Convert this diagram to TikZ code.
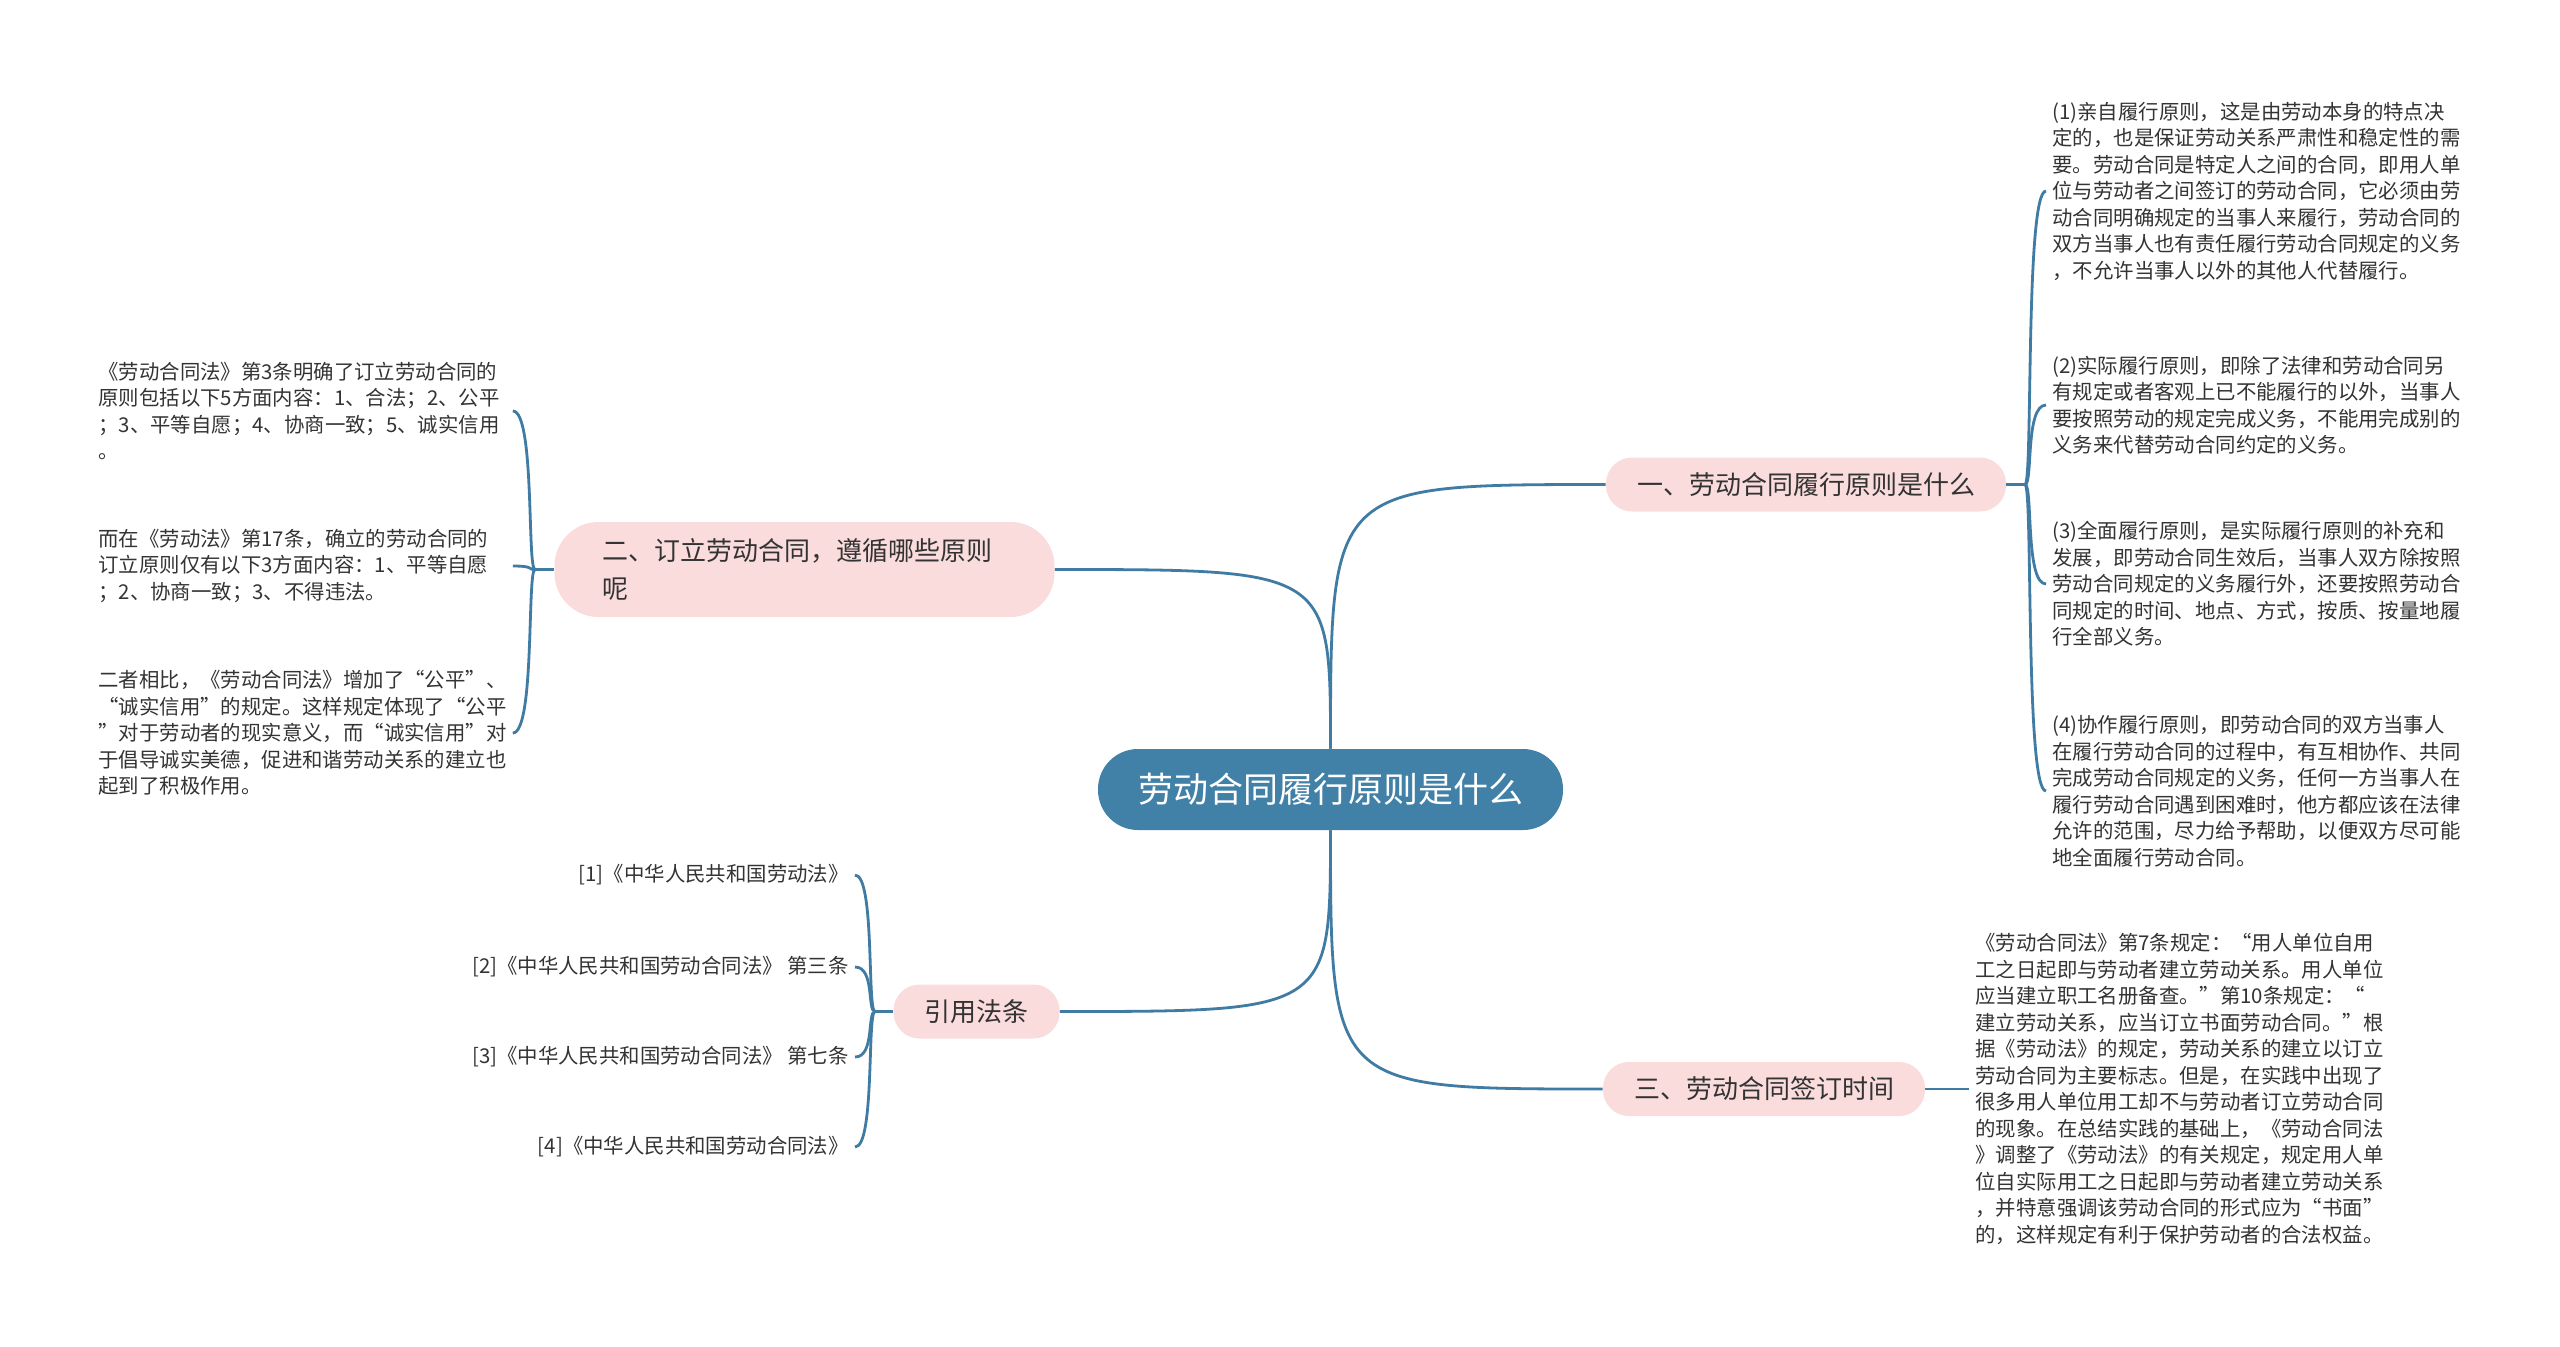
\documentclass[tikz,border=0pt]{standalone}
\usepackage{fontspec}
\setmainfont{Noto Sans CJK SC}
\definecolor{linkblue}{HTML}{3F7BA3}
\definecolor{rootblue}{HTML}{4180A7}
\definecolor{topicpink}{HTML}{FADCDC}
\definecolor{textgray}{HTML}{333333}
\begin{document}
\begin{tikzpicture}[x=0.5pt,y=-0.5pt,
  root/.style={fill=rootblue, text=white, rounded corners=20pt, inner sep=0pt, minimum width=232.5pt, minimum height=40.5pt, font=\fontsize{17.5pt}{21pt}\selectfont},
  topic/.style={fill=topicpink, text=textgray, rounded corners=13pt, inner xsep=15.5pt, inner ysep=0pt, minimum height=27pt, font=\fontsize{13pt}{19pt}\selectfont},
  leaf/.style={text=textgray, align=left, inner sep=3pt, font=\fontsize{10.2pt}{13.25pt}\selectfont},
  link/.style={draw=linkblue, line width=1.4pt}]
\useasboundingbox (0,0) rectangle (2560,1346);

\node[root] (root) at (1330.5,789.5) {劳动合同履行原则是什么};
\node[topic] (t1) at (1806,484.5) {一、劳动合同履行原则是什么};
\node[topic, rounded corners=22pt, text width=202pt, align=left, inner xsep=24pt, minimum height=47.5pt] (t2) at (804.5,569.5) {二、订立劳动合同，遵循哪些原则\\呢};
\node[topic] (t3) at (1764,1089) {三、劳动合同签订时间};
\node[topic] (t4) at (976.5,1011.5) {引用法条};

\node[leaf, anchor=west] (r1) at (2046,191) {(1)亲自履行原则，这是由劳动本身的特点决\\定的，也是保证劳动关系严肃性和稳定性的需\\要。劳动合同是特定人之间的合同，即用人单\\位与劳动者之间签订的劳动合同，它必须由劳\\动合同明确规定的当事人来履行，劳动合同的\\双方当事人也有责任履行劳动合同规定的义务\\，不允许当事人以外的其他人代替履行。};
\node[leaf, anchor=west] (r2) at (2046,405) {(2)实际履行原则，即除了法律和劳动合同另\\有规定或者客观上已不能履行的以外，当事人\\要按照劳动的规定完成义务，不能用完成别的\\义务来代替劳动合同约定的义务。};
\node[leaf, anchor=west] (r3) at (2046,584) {(3)全面履行原则，是实际履行原则的补充和\\发展，即劳动合同生效后，当事人双方除按照\\劳动合同规定的义务履行外，还要按照劳动合\\同规定的时间、地点、方式，按质、按量地履\\行全部义务。};
\node[leaf, anchor=west] (r4) at (2046,791) {(4)协作履行原则，即劳动合同的双方当事人\\在履行劳动合同的过程中，有互相协作、共同\\完成劳动合同规定的义务，任何一方当事人在\\履行劳动合同遇到困难时，他方都应该在法律\\允许的范围，尽力给予帮助，以便双方尽可能\\地全面履行劳动合同。};
\node[leaf, anchor=west] (r5) at (1969,1089) {《劳动合同法》第7条规定：“用人单位自用\\工之日起即与劳动者建立劳动关系。用人单位\\应当建立职工名册备查。”第10条规定：“\\建立劳动关系，应当订立书面劳动合同。”根\\据《劳动法》的规定，劳动关系的建立以订立\\劳动合同为主要标志。但是，在实践中出现了\\很多用人单位用工却不与劳动者订立劳动合同\\的现象。在总结实践的基础上，《劳动合同法\\》调整了《劳动法》的有关规定，规定用人单\\位自实际用工之日起即与劳动者建立劳动关系\\，并特意强调该劳动合同的形式应为“书面”\\的，这样规定有利于保护劳动者的合法权益。};

\node[leaf, anchor=west, text width=204pt] (l1) at (92,411) {《劳动合同法》第3条明确了订立劳动合同的\\原则包括以下5方面内容：1、合法；2、公平\\；3、平等自愿；4、协商一致；5、诚实信用\\。};
\node[leaf, anchor=west, text width=204pt] (l2) at (92,566) {而在《劳动法》第17条，确立的劳动合同的\\订立原则仅有以下3方面内容：1、平等自愿\\；2、协商一致；3、不得违法。};
\node[leaf, anchor=west, text width=204pt] (l3) at (92,733) {二者相比，《劳动合同法》增加了“公平”、\\“诚实信用”的规定。这样规定体现了“公平\\”对于劳动者的现实意义，而“诚实信用”对\\于倡导诚实美德，促进和谐劳动关系的建立也\\起到了积极作用。};

\node[leaf, anchor=east] (c1) at (855,875) {[1]《中华人民共和国劳动法》};
\node[leaf, anchor=east] (c2) at (855,967) {[2]《中华人民共和国劳动合同法》 第三条};
\node[leaf, anchor=east] (c3) at (855,1057) {[3]《中华人民共和国劳动合同法》 第七条};
\node[leaf, anchor=east] (c4) at (855,1147) {[4]《中华人民共和国劳动合同法》};

\coordinate (j1) at (2025,484.5);
\coordinate (j2) at (535,569.5);
\coordinate (j3) at (875,1011.5);

\draw[link] (root.north) .. controls (root.north |- t1.west) .. (t1.west);
\draw[link] (root.north) .. controls (root.north |- t2.east) .. (t2.east);
\draw[link] (root.south) .. controls (root.south |- t4.east) .. (t4.east);
\draw[link] (root.south) .. controls (root.south |- t3.west) .. (t3.west);

\draw[link] (t1.east) -- (j1);
\foreach \n in {r1,r2,r3,r4}
  \draw[link] (j1) .. controls +(8,0) and (j1 |- \n.west) .. (\n.west);
\draw[link] (t2.west) -- (j2);
\foreach \n in {l1,l2,l3}
  \draw[link] (j2) .. controls +(-8,0) and (j2 |- \n.east) .. (\n.east);
\draw[link] (t4.west) -- (j3);
\foreach \n in {c1,c2,c3,c4}
  \draw[link] (j3) .. controls +(-8,0) and (j3 |- \n.east) .. (\n.east);
\draw[link] (t3.east) -- (r5.west);
\end{tikzpicture}
\end{document}
